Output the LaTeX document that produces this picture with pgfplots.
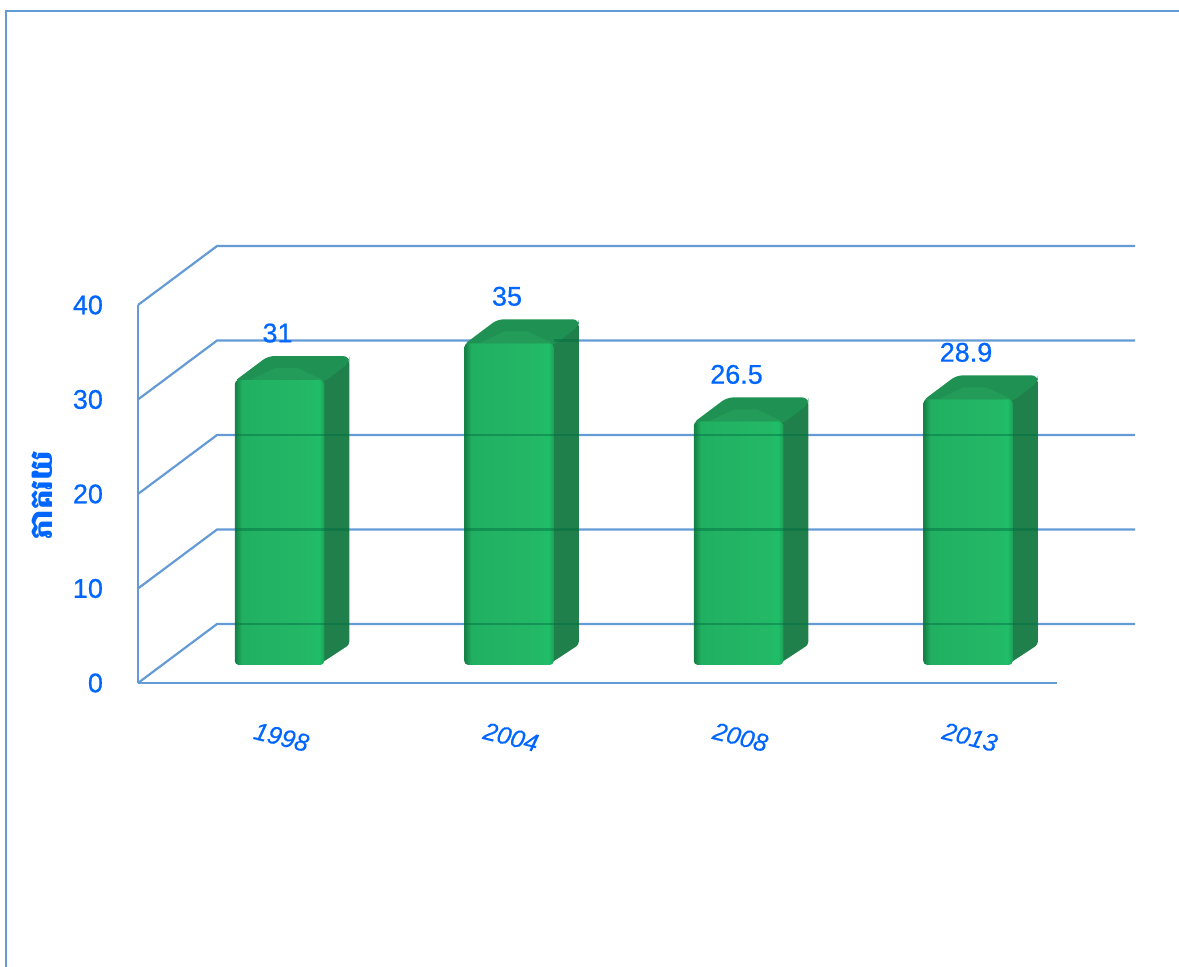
\documentclass[border=0pt]{standalone}
\usepackage{fontspec}
\usepackage{pgfplots}
\pgfplotsset{compat=1.18}
\setmainfont{Liberation Sans}
\newfontfamily\labelfont{Liberation Sans}[FakeBold=0.6]
\newfontfamily\yearfont{Liberation Sans}[ItalicFeatures={FakeBold=0.3}]
\newfontfamily\khmerfont[Script=Khmer]{Battambang}
\definecolor{gridblue}{HTML}{659BD5}
\definecolor{textblue}{HTML}{0066FF}
\definecolor{barside}{HTML}{20804B}
\definecolor{bartop}{HTML}{1F9152}
\definecolor{bartoplight}{HTML}{249C59}
\definecolor{crossing}{HTML}{006A40}
\pgfdeclarehorizontalshading{barfront}{100bp}{
  color(0bp)=({rgb,255:red,22;green,130;blue,72});
  color(25.5bp)=({rgb,255:red,22;green,130;blue,72});
  color(29bp)=({rgb,255:red,33;green,176;blue,98});
  color(66bp)=({rgb,255:red,35;green,184;blue,102});
  color(72bp)=({rgb,255:red,31;green,190;blue,104});
  color(75bp)=({rgb,255:red,30;green,160;blue,88});
  color(100bp)=({rgb,255:red,30;green,160;blue,88})}
\pgfplotsset{
  chartbox/.style={
    at={(69pt,142pt)}, anchor=south west,
    scale only axis, width=459.5pt, height=189pt,
    xmin=-0.6166, xmax=3.3878, clip=false},
  side/.style={fill=barside, draw=none, rounded corners=1.5pt, forget plot},
  topface/.style={fill=bartop, draw=none, rounded corners=3pt, forget plot},
  toplight/.style={fill=bartoplight, draw=none, forget plot},
  front/.style={ybar, bar width=44.75pt, bar shift=0pt, draw=none,
    shading=barfront, shading angle=0, rounded corners=2pt,
    nodes near coords, point meta=explicit symbolic,
    every node near coord/.append style={font=\labelfont\fontsize{13.5}{16}\selectfont,
      text=textblue, anchor=center, yshift=23.5pt, xshift=-1pt}},
  wall/.style={gridblue, line width=1.1pt, mark=none, forget plot},
}
\begin{document}
\begin{tikzpicture}
\path[use as bounding box] (0,0) rectangle (589.5pt,483.5pt);
\draw[gridblue, line width=0.8pt] (589.5pt,478pt) -- (3pt,478pt) -- (3pt,0);

% axis and back wall, on the 0-40 scale of the ticks
\begin{axis}[chartbox,
  ymin=0, ymax=40,
  axis x line=bottom, axis y line=left,
  axis line style={-, gridblue, line width=1.1pt},
  major tick length=0pt,
  xtick={0,1,2,3}, xticklabels={1998,2004,2008,2013},
  ytick={0,10,20,30,40},
  /pgf/number format/assume math mode=true,
  xticklabel style={font=\yearfont\fontsize{12.5}{14}\selectfont\itshape, text=textblue,
    rotate=-14, anchor=center, yshift=-26pt, xshift=7.5pt},
  yticklabel style={font=\labelfont\fontsize{13.5}{16}\selectfont, text=textblue, xshift=-14pt},
  ylabel={\khmerfont\bfseries ភាគរយ},
  ylabel style={font=\fontsize{15.5}{18}\selectfont, text=textblue,
    at={(axis description cs:-0.1045,0.497)}, anchor=center},
]
\addplot[wall] coordinates {(-0.6166,0) (-0.2723,6.24) (3.7277,6.24)};
\addplot[wall] coordinates {(-0.6166,10) (-0.2723,16.24) (3.7277,16.24)};
\addplot[wall] coordinates {(-0.6166,20) (-0.2723,26.24) (3.7277,26.24)};
\addplot[wall] coordinates {(-0.6166,30) (-0.2723,36.24) (3.7277,36.24)};
\addplot[wall] coordinates {(-0.6166,40) (-0.2723,46.24) (3.7277,46.24)};
\end{axis}

% bars, standing on the floor in front of the wall
\begin{axis}[chartbox,
  ymin=-1.96, ymax=39.17,
  hide axis,
]
% 1998
\addplot[side] coordinates {(0.17,0) (0.304,2.2) (0.304,33.2) (0.17,33.2) (0.17,31)} -- cycle;
\addplot[topface] coordinates {(-0.2,30.8) (-0.05,33.61) (0.304,33.61) (0.304,32.9) (0.195,30.8)} -- cycle;
\addplot[toplight] coordinates {(-0.13,31) (-0.02,32.3) (0.08,32.3) (0.19,31)} -- cycle;
\addplot[front] coordinates {(0,31)[31]};
% 2004
\addplot[side] coordinates {(1.17,0) (1.304,2.2) (1.304,37.2) (1.17,37.2) (1.17,35)} -- cycle;
\addplot[topface] coordinates {(0.8,34.8) (0.95,37.61) (1.304,37.61) (1.304,36.9) (1.195,34.8)} -- cycle;
\addplot[toplight] coordinates {(0.87,35) (0.98,36.3) (1.08,36.3) (1.19,35)} -- cycle;
\addplot[front] coordinates {(1,35)[35]};
% 2008
\addplot[side] coordinates {(2.17,0) (2.304,2.2) (2.304,28.7) (2.17,28.7) (2.17,26.5)} -- cycle;
\addplot[topface] coordinates {(1.8,26.3) (1.95,29.11) (2.304,29.11) (2.304,28.4) (2.195,26.3)} -- cycle;
\addplot[toplight] coordinates {(1.87,26.5) (1.98,27.8) (2.08,27.8) (2.19,26.5)} -- cycle;
\addplot[front] coordinates {(2,26.5)[26.5]};
% 2013
\addplot[side] coordinates {(3.17,0) (3.304,2.2) (3.304,31.1) (3.17,31.1) (3.17,28.9)} -- cycle;
\addplot[topface] coordinates {(2.8,28.7) (2.95,31.51) (3.304,31.51) (3.304,30.8) (3.195,28.7)} -- cycle;
\addplot[toplight] coordinates {(2.87,28.9) (2.98,30.2) (3.08,30.2) (3.19,28.9)} -- cycle;
\addplot[front] coordinates {(3,28.9)[28.9]};
\end{axis}

% back wall lines showing through the bars
\begin{axis}[chartbox,
  ymin=0, ymax=40,
  hide axis,
]
\addplot[crossing, opacity=0.45, line width=1.1pt, mark=none, unbounded coords=jump] coordinates {
  (-0.195,6.24) (0.304,6.24) (0.5,nan) (-0.195,16.24) (0.304,16.24) (0.5,nan) (-0.195,26.24) (0.304,26.24) (0.5,nan)
  (0.805,6.24) (1.304,6.24) (1.5,nan) (0.805,16.24) (1.304,16.24) (1.5,nan) (0.805,26.24) (1.304,26.24) (1.5,nan) (1.195,36.24) (1.304,36.24) (1.5,nan)
  (1.805,6.24) (2.304,6.24) (2.5,nan) (1.805,16.24) (2.304,16.24) (2.5,nan) (1.805,26.24) (2.304,26.24) (2.5,nan)
  (2.805,6.24) (3.304,6.24) (3.5,nan) (2.805,16.24) (3.304,16.24) (3.5,nan) (2.805,26.24) (3.304,26.24)
};
\end{axis}
\end{tikzpicture}
\end{document}
